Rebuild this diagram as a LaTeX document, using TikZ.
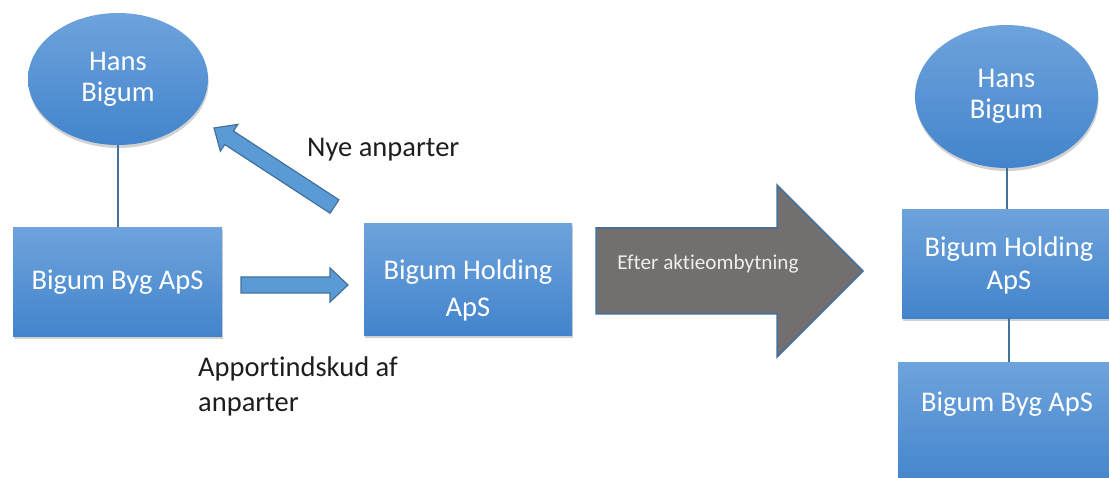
\documentclass[tikz,border=0pt]{standalone}
\usepackage{fontspec}
\setmainfont{Carlito}[Ligatures=NoCommon]
\usetikzlibrary{shadows,shapes.geometric}
\definecolor{boxtop}{RGB}{110,163,220}
\definecolor{boxbot}{RGB}{66,132,204}
\definecolor{edgeblue}{RGB}{65,113,156}
\definecolor{arrowblue}{RGB}{91,155,213}
\definecolor{grayarrow}{RGB}{115,111,110}
\definecolor{labeltext}{RGB}{30,30,30}
\begin{document}
\begin{tikzpicture}[x=1pt,y=-1pt,
  blueshape/.style={top color=boxtop,bottom color=boxbot,draw=none,text=white,
    font=\fontsize{28.5}{33}\selectfont,align=center,inner sep=0pt,
    drop shadow={shadow xshift=0.6pt,shadow yshift=-3pt,opacity=0.18,fill=black}},
  boxnode/.style={blueshape,rectangle,anchor=north},
  ellnode/.style={blueshape,ellipse,font=\fontsize{28.5}{31}\selectfont},
  conn/.style={draw=edgeblue,line width=2pt},
  blockarrow/.style={fill=arrowblue,draw=edgeblue,line width=1.2pt,line join=miter},
  bigarrow/.style={fill=grayarrow,draw=edgeblue,line width=1.5pt,line join=miter},
  lbl/.style={text=labeltext,font=\fontsize{28.5}{35}\selectfont,align=left,inner sep=0pt}
]
\useasboundingbox (0,0) rectangle (1109,478);
\clip (0,0) rectangle (1109,478);

% left part
\node[ellnode,minimum width=180pt,minimum height=132pt] (lell) at (118,79) {Hans\\Bigum};
\node[boxnode,minimum width=209pt,text height=62pt,text depth=47pt] (lbyg) at (117.5,227) {Bigum Byg ApS};
\node[boxnode,minimum width=208pt,text height=93pt,text depth=19pt,font=\fontsize{28.5}{37}\selectfont] (lhold) at (468,223) {Bigum Holding\\ApS};
\draw[conn] (lell.south) -- (lell.south |- lbyg.north);

% block arrows
\draw[blockarrow] (241,277) -- (330,277) -- (330,268) -- (348,285) -- (330,302) -- (330,293) -- (241,293) -- cycle;
\draw[blockarrow] (338.9,199.8) -- (233.5,131.1) -- (237.8,124.4) -- (214,128) -- (220.4,151.2) -- (224.7,144.5) -- (330.1,213.2) -- cycle;

\node[lbl,anchor=base west] (nye) at (307,157) {Nye anparter};
\node[lbl,anchor=base west] (apport) at (198,411) {Apportindskud af\\anparter};

% big arrow
\draw[bigarrow] (596,228) -- (777,228) -- (777,185) -- (863,271) -- (777,357) -- (777,314) -- (596,314) -- cycle;
\node[text={rgb,255:red,238;green,238;blue,238},font=\fontsize{21.2}{24}\selectfont,inner sep=0pt] (efter) at (708,264) {Efter aktieombytning};

% right part
\node[ellnode,minimum width=183pt,minimum height=143pt] (rell) at (1006.5,96.5) {Hans\\Bigum};
\node[boxnode,minimum width=214pt,text height=80pt,text depth=29pt] (rhold) at (1009,209) {Bigum Holding\\ApS};
\node[boxnode,minimum width=218pt,text height=49pt,text depth=79pt] (rbyg) at (1007,362) {Bigum Byg ApS};
\draw[conn] (rell.south) -- (rell.south |- rhold.north);
\draw[conn] (rhold.south) -- (rhold.south |- rbyg.north);
\end{tikzpicture}
\end{document}
